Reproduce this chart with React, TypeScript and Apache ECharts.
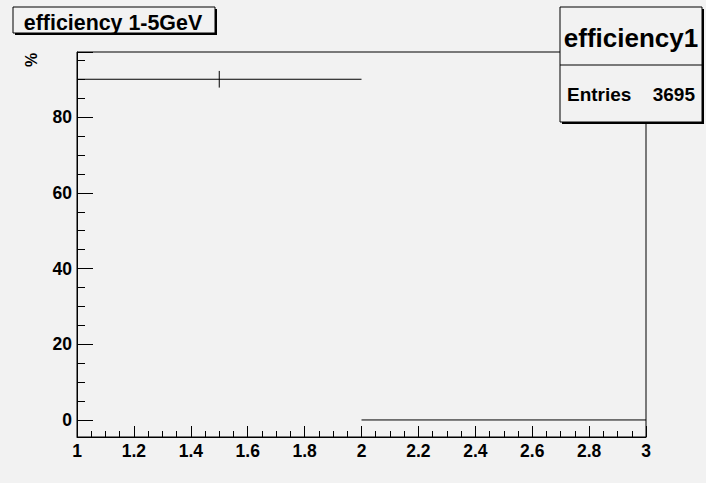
import React, { useEffect, useRef } from "react";
import * as echarts from "echarts";

// Histogram bins (x range) and contents
const binLow = [1, 2];
const binHigh = [2, 3];
const values = [90, 0];
const errors = [2.2, 0];

const xMin = 1;
const xMax = 3;
const yMin = -4.5;
const yMax = 97.2;

const titleText = "efficiency 1-5GeV";
const statsName = "efficiency1";
const entriesLabel = "Entries";
const entriesValue = 3695;
const yTitle = "%";

const FONT = "'Liberation Sans', Arial, Helvetica, sans-serif";
const BG = "#f2f2f2";

export default function App() {
  const ref = useRef<HTMLDivElement>(null);
  useEffect(() => {
    const chart = echarts.init(ref.current!, null, { renderer: "svg" });
    const data = values.map((v, i) => [binLow[i], binHigh[i], v, errors[i]]);
    chart.setOption({
      animation: false,
      backgroundColor: BG,
      grid: {
        left: 77,
        top: 52,
        right: 60,
        bottom: 46,
        show: true,
        borderColor: "#000",
        borderWidth: 1,
        backgroundColor: "transparent",
      },
      xAxis: {
        type: "value",
        min: xMin,
        max: xMax,
        interval: 0.2,
        axisLine: { show: true, onZero: false, lineStyle: { color: "#000", width: 1 } },
        axisTick: { show: true, inside: true, length: 11, lineStyle: { color: "#000" } },
        minorTick: { show: true, splitNumber: 4, length: 6, lineStyle: { color: "#000" } },
        splitLine: { show: false },
        axisLabel: {
          color: "#000",
          fontFamily: FONT,
          fontWeight: "bold",
          fontSize: 17.5,
          margin: 5,
        },
      },
      yAxis: {
        type: "value",
        min: yMin,
        max: yMax,
        axisLine: { show: true, onZero: false, lineStyle: { color: "#000", width: 1 } },
        axisTick: { show: true, inside: true, length: 16, lineStyle: { color: "#000" } },
        minorTick: { show: true, splitNumber: 4, length: 8, lineStyle: { color: "#000" } },
        splitLine: { show: false },
        axisLabel: {
          color: "#000",
          fontFamily: FONT,
          fontWeight: "bold",
          fontSize: 17.5,
          margin: 5,
          showMinLabel: false,
          showMaxLabel: false,
        },
      },
      series: [
        {
          type: "custom",
          data,
          encode: { x: [0, 1], y: 2 },
          renderItem: (params: any, api: any) => {
            const lo = api.value(0);
            const hi = api.value(1);
            const v = api.value(2);
            const e = api.value(3);
            const mid = (lo + hi) / 2;
            const p1 = api.coord([lo, v]);
            const p2 = api.coord([hi, v]);
            const t = api.coord([mid, v + e]);
            const b = api.coord([mid, v - e]);
            const children: any[] = [
              {
                type: "line",
                shape: { x1: p1[0], y1: p1[1], x2: p2[0], y2: p2[1] },
                style: { stroke: "#000", lineWidth: 1 },
              },
            ];
            if (e > 0) {
              children.push({
                type: "line",
                shape: { x1: t[0], y1: t[1], x2: b[0], y2: b[1] },
                style: { stroke: "#000", lineWidth: 1 },
              });
            }
            return { type: "group", children };
          },
        },
      ],
      graphic: [
        // title box
        { type: "rect", z: 100, shape: { x: 15, y: 9, width: 202, height: 26 }, style: { fill: "#000" } },
        { type: "rect", z: 101, shape: { x: 13, y: 7, width: 202, height: 26 }, style: { fill: BG, stroke: "#000", lineWidth: 1 } },
        {
          type: "text",
          z: 102,
          x: 113,
          y: 22.5,
          style: {
            text: titleText,
            font: `bold 21.4px ${FONT}`,
            fill: "#000",
            textAlign: "center",
            textVerticalAlign: "middle",
          },
        },
        // stats box
        { type: "rect", z: 100, shape: { x: 562, y: 9, width: 142, height: 115 }, style: { fill: "#000" } },
        { type: "rect", z: 101, shape: { x: 560, y: 7, width: 142, height: 115 }, style: { fill: BG, stroke: "#000", lineWidth: 1 } },
        { type: "line", z: 102, shape: { x1: 560, y1: 65, x2: 702, y2: 65 }, style: { stroke: "#000", lineWidth: 1 } },
        {
          type: "text",
          z: 102,
          x: 631,
          y: 37.5,
          style: {
            text: statsName,
            font: `bold 26px ${FONT}`,
            fill: "#000",
            textAlign: "center",
            textVerticalAlign: "middle",
          },
        },
        {
          type: "text",
          z: 102,
          x: 567,
          y: 94,
          style: {
            text: entriesLabel,
            font: `bold 19px ${FONT}`,
            fill: "#000",
            textAlign: "left",
            textVerticalAlign: "middle",
          },
        },
        {
          type: "text",
          z: 102,
          x: 695,
          y: 94,
          style: {
            text: String(entriesValue),
            font: `bold 19px ${FONT}`,
            fill: "#000",
            textAlign: "right",
            textVerticalAlign: "middle",
          },
        },
        // y axis title
        {
          type: "text",
          z: 102,
          x: 31,
          y: 60,
          rotation: Math.PI / 2,
          style: {
            text: yTitle,
            font: `bold 16px ${FONT}`,
            fill: "#000",
            textAlign: "center",
            textVerticalAlign: "middle",
          },
        },
      ],
    });
    return () => chart.dispose();
  }, []);
  return (
    <div
      ref={ref}
      style={{ position: "absolute", left: 0, top: 0, width: 706, height: 483 }}
    />
  );
}
